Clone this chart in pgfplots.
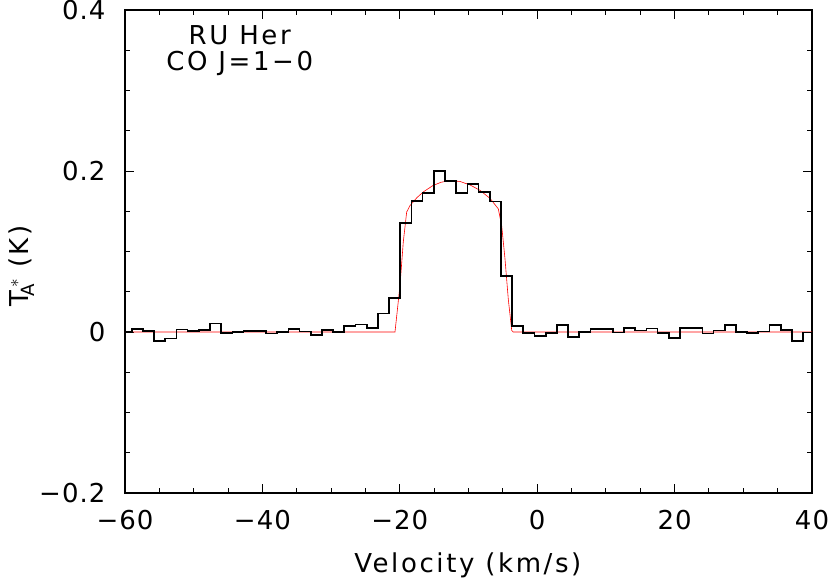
\documentclass[border=0pt]{standalone}
\usepackage{pgfplots}
\pgfplotsset{compat=1.18}
\usepackage{fontspec}
\setmainfont{DejaVu Sans}[LetterSpace=10]
\newfontfamily\tickfont{DejaVu Sans}[LetterSpace=4]
\begin{document}
\begin{tikzpicture}
\begin{axis}[
  at={(125pt,86pt)}, anchor=south west,
  scale only axis, width=687pt, height=483pt,
  xmin=-60, xmax=40, ymin=-0.2, ymax=0.4,
  xtick={-60,-40,-20,0,20,40},
  xticklabels={−60,−40,−20,0,20,40},
  ytick={-0.2,0,0.2,0.4},
  yticklabels={−0.2,0,0.2,0.4},
  minor xtick={-55,-50,-45,-35,-30,-25,-15,-10,-5,5,10,15,25,30,35},
  minor ytick={-0.15,-0.1,-0.05,0.05,0.1,0.15,0.25,0.3,0.35},
  tick align=inside,
  major tick length=9pt, minor tick length=5pt,
  every tick/.style={black, line width=1pt},
  axis line style={line width=1.3pt},
  tick label style={font=\fontsize{26}{30}\selectfont\tickfont},
  xticklabel style={yshift=-14pt},
  yticklabel style={xshift=-16pt},
  xlabel={Velocity (km/s)},
  ylabel={T$^{\,\ast}_{\!\!\mathrm{A}}$ (K)},
  label style={font=\fontsize{26}{30}\selectfont},
  xlabel style={at={(axis description cs:0.499,0)}, anchor=center, yshift=-72pt},
  ylabel style={at={(axis description cs:-0.151,0.47)}, anchor=center},
  clip=true,
]
\addplot[red, line width=0.6pt] coordinates {
(-60,0) (-20.7,0) (-19.97,0.058) (-19.49,0.112) (-19.0,0.149) (-18.52,0.157)
(-17.5,0.167) (-16.58,0.174) (-15.17,0.182) (-14,0.186) (-12.69,0.188)
(-11.24,0.187) (-9.78,0.1827) (-8.33,0.176) (-6.87,0.166) (-5.66,0.153)
(-5.17,0.132) (-4.69,0.091) (-4.21,0.041) (-3.71,0.002) (-3.5,0) (40,0)
};
\addplot[black, line width=1.7pt, const plot mark left] coordinates {
(-60,0.000) (-59.025,0.0037) (-57.396,0.0012) (-55.767,-0.011) (-54.139,-0.008)
(-52.510,0.003) (-50.881,0.0016) (-49.252,0.0025) (-47.623,0.0107) (-45.995,-0.0012)
(-44.366,0.0) (-42.737,0.0016) (-41.108,0.0016) (-39.479,-0.002) (-37.851,0.0)
(-36.222,0.0037) (-34.593,0.0005) (-32.964,-0.004) (-31.335,0.0025) (-29.707,0.0)
(-28.078,0.0078) (-26.449,0.0095) (-24.820,0.0054) (-23.191,0.0228) (-21.563,0.0423)
(-19.934,0.135) (-18.305,0.163) (-16.676,0.173) (-15.047,0.200) (-13.419,0.188)
(-11.790,0.173) (-10.161,0.184) (-8.532,0.174) (-6.903,0.162) (-5.275,0.0697)
(-3.646,0.0075) (-2.017,-0.0012) (-0.388,-0.005) (1.241,-0.0012) (2.870,0.0083)
(4.498,-0.0062) (6.127,0.0) (7.756,0.0033) (9.385,0.0033) (11.014,-0.0008)
(12.642,0.0054) (14.271,0.002) (15.900,0.0045) (17.529,-0.001) (19.158,-0.0075)
(20.786,0.0054) (22.415,0.0054) (24.044,-0.002) (25.673,0.002) (27.302,0.0083)
(28.930,0.0) (30.559,-0.001) (32.188,0.0008) (33.817,0.009) (35.446,0.0029)
(37.074,-0.0116) (38.703,-0.0008) (40,-0.0008)
};
\node[font=\fontsize{26}{30}\selectfont, anchor=center] at (axis cs:-43.3,0.369) {RU Her};
\node[font=\fontsize{26}{30}\selectfont, anchor=center] at (axis cs:-43.3,0.334) {CO J=1−0};
\end{axis}
\pgfresetboundingbox
\path[use as bounding box] (0,0) rectangle (830pt,579pt);
\end{tikzpicture}
\end{document}
